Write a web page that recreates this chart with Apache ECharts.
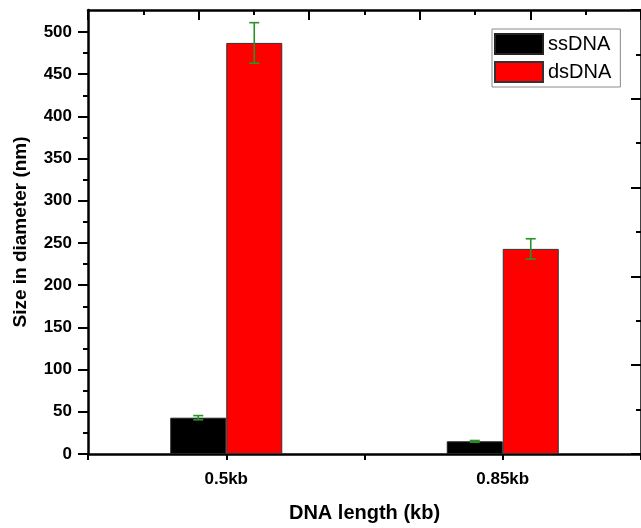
<!DOCTYPE html>
<html>
<head>
<meta charset="utf-8">
<script src="https://cdn.jsdelivr.net/npm/echarts@6/dist/echarts.min.js"></script>
<style>
  html, body { margin: 0; padding: 0; background: #fff; }
  #chart { width: 641px; height: 528px; }
</style>
</head>
<body>
<div id="chart"></div>
<script>
  // groups on the x axis (value position + label)
  var lengthPos = [1, 2];
  var lengthLabels = ['0.5kb', '0.85kb'];

  // size in diameter (nm) with error
  var ssDNA = [43, 15];
  var ssDNAErr = [2.5, 1];
  var dsDNA = [487, 243];
  var dsDNAErr = [24, 12];

  // y ticks
  var yMajorTicks = [0, 50, 100, 150, 200, 250, 300, 350, 400, 450, 500];
  var yMinorTicks = [25, 75, 125, 175, 225, 275, 325, 375, 425, 475];

  var FONT = '"Liberation Sans", Arial, sans-serif';
  var BAR_W = 56;
  var AXIS_LINE = { show: true, onZero: false, lineStyle: { color: '#000', width: 2.5 } };

  function errorSeries(name, vals, errs, offset) {
    return {
      type: 'custom',
      name: name,
      xAxisIndex: 0,
      yAxisIndex: 0,
      z: 5,
      silent: true,
      data: lengthPos.map(function (x, i) {
        return [x, vals[i] - errs[i], vals[i] + errs[i]];
      }),
      encode: { x: 0, y: [1, 2] },
      renderItem: function (params, api) {
        var lo = api.coord([api.value(0), api.value(1)]);
        var hi = api.coord([api.value(0), api.value(2)]);
        var x = lo[0] + offset;
        var cap = 5;
        var st = { stroke: '#2a922a', lineWidth: 1.6 };
        return {
          type: 'group',
          children: [
            { type: 'line', shape: { x1: x, y1: hi[1], x2: x, y2: lo[1] }, style: st },
            { type: 'line', shape: { x1: x - cap, y1: hi[1], x2: x + cap, y2: hi[1] }, style: st },
            { type: 'line', shape: { x1: x - cap, y1: lo[1], x2: x + cap, y2: lo[1] }, style: st }
          ]
        };
      }
    };
  }

  var myChart = echarts.init(document.getElementById('chart'));
  myChart.setOption({
    backgroundColor: '#fff',
    animation: false,
    textStyle: { fontFamily: FONT },
    grid: { left: 88, right: -2, top: 10, bottom: 71 },
    legend: {
      data: ['ssDNA', 'dsDNA'],
      orient: 'vertical',
      left: 492,
      top: 29,
      icon: 'rect',
      itemWidth: 48,
      itemHeight: 20,
      itemGap: 6,
      padding: [4, 9, 4, 2],
      borderColor: '#8a8a8a',
      borderWidth: 1,
      backgroundColor: '#fff',
      textStyle: { fontFamily: FONT, fontSize: 20, lineHeight: 20, color: '#000' }
    },
    xAxis: [
      {
        type: 'value',
        position: 'bottom',
        min: 0.5,
        max: 2.5,
        interval: 0.5,
        name: 'DNA length (kb)',
        nameLocation: 'middle',
        nameGap: 49,
        nameTextStyle: { fontFamily: FONT, fontSize: 20, fontWeight: 'bold', color: '#000' },
        axisLine: AXIS_LINE,
        axisTick: { show: true, inside: false, length: 6, lineStyle: { color: '#000', width: 2 } },
        axisLabel: {
          customValues: lengthPos,
          formatter: function (v) {
            var i = lengthPos.indexOf(v);
            return i >= 0 ? lengthLabels[i] : '';
          },
          margin: 17,
          fontFamily: FONT, fontSize: 17, fontWeight: 'bold', color: '#000'
        },
        splitLine: { show: false }
      },
      {
        type: 'value',
        position: 'top',
        min: 0,
        max: 5,
        interval: 1,
        axisLine: AXIS_LINE,
        axisTick: { show: true, inside: true, length: 10, lineStyle: { color: '#000', width: 2 } },
        minorTick: { show: true, splitNumber: 2, length: 5, lineStyle: { color: '#000', width: 2 } },
        axisLabel: { show: false },
        splitLine: { show: false }
      }
    ],
    yAxis: [
      {
        type: 'value',
        position: 'left',
        offset: 0,
        min: 0,
        max: 526,
        interval: 50,
        name: 'Size in diameter (nm)',
        nameLocation: 'middle',
        nameGap: 58,
        nameTextStyle: { fontFamily: FONT, fontSize: 19, fontWeight: 'bold', color: '#000' },
        axisLine: AXIS_LINE,
        axisTick: { show: true, inside: false, length: 10, customValues: yMajorTicks, lineStyle: { color: '#000', width: 2 } },
        axisLabel: {
          customValues: yMajorTicks,
          margin: 16,
          fontFamily: FONT, fontSize: 17, fontWeight: 'bold', color: '#000'
        },
        splitLine: { show: false }
      },
      {
        type: 'value',
        position: 'left',
        offset: 0,
        min: 0,
        max: 526,
        axisLine: { show: false, onZero: false },
        axisTick: { show: true, inside: false, length: 5, customValues: yMinorTicks, lineStyle: { color: '#000', width: 2 } },
        axisLabel: { show: false },
        splitLine: { show: false }
      },
      {
        type: 'value',
        position: 'right',
        offset: 0,
        min: 0,
        max: 5,
        interval: 1,
        axisLine: AXIS_LINE,
        axisTick: { show: true, inside: true, length: 10, lineStyle: { color: '#000', width: 2 } },
        minorTick: { show: true, splitNumber: 2, length: 5, lineStyle: { color: '#000', width: 2 } },
        axisLabel: { show: false },
        splitLine: { show: false }
      }
    ],
    series: [
      {
        name: 'ssDNA',
        type: 'bar',
        xAxisIndex: 0,
        yAxisIndex: 0,
        barWidth: BAR_W,
        barGap: '0%',
        itemStyle: { color: '#000', borderColor: '#222', borderWidth: 1 },
        data: lengthPos.map(function (x, i) { return [x, ssDNA[i]]; })
      },
      {
        name: 'dsDNA',
        type: 'bar',
        xAxisIndex: 0,
        yAxisIndex: 0,
        barWidth: BAR_W,
        barGap: '0%',
        itemStyle: { color: '#ff0000', borderColor: '#333', borderWidth: 1 },
        data: lengthPos.map(function (x, i) { return [x, dsDNA[i]]; })
      },
      errorSeries('ssDNA err', ssDNA, ssDNAErr, -BAR_W / 2),
      errorSeries('dsDNA err', dsDNA, dsDNAErr, BAR_W / 2)
    ]
  });
</script>
</body>
</html>
